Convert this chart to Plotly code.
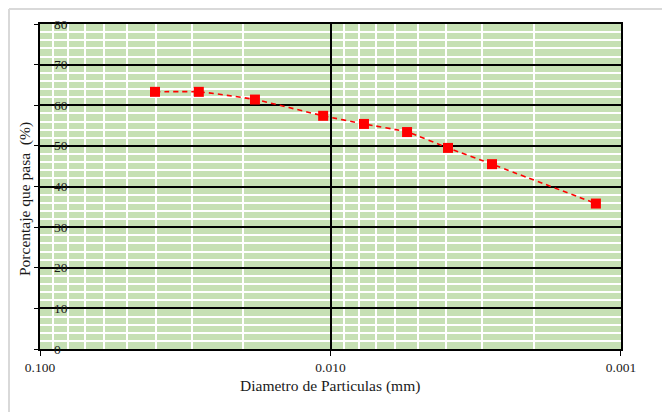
import plotly.graph_objects as go

diametro_mm = [0.0402, 0.0284, 0.0182, 0.0106, 0.00767, 0.00545, 0.00394, 0.00278, 0.00122]
porcentaje_pasa = [63.3, 63.3, 61.4, 57.4, 55.4, 53.4, 49.5, 45.5, 35.8]
x_tick_vals = [0.1, 0.01, 0.001]
x_tick_text = ["0.100", "0.010", "0.001"]
y_tick_vals = [0, 10, 20, 30, 40, 50, 60, 70, 80]
x_title = "Diametro de Particulas (mm)"
y_title = "Porcentaje que pasa  (%)"

FONT = "Times New Roman, Liberation Serif, serif"
TXT = "#1a1a1a"

# page offset (default body margin) and plot area in page pixels
OFF = 8
PL, PR, PT, PB = 40, 621, 24, 349
L, T = PL - OFF, PT - OFF
R, B = 670 - (PR - OFF), 412 - (PB - OFF)
PW, PH = PR - PL, PB - PT


def px_x(p):
    return (p - PL) / PW


def px_y(p):
    return (PB - p) / PH


fig = go.Figure()
fig.add_trace(go.Scatter(
    x=diametro_mm, y=porcentaje_pasa, mode="lines+markers",
    line=dict(color="#FF0000", width=1.6, dash="5px,4px", shape="spline", smoothing=0.5),
    marker=dict(symbol="square", size=10, color="#FF0000"),
    showlegend=False,
))

fig.update_layout(
    width=670, height=412,
    margin=dict(l=L, r=R, t=T, b=B),
    paper_bgcolor="white",
    plot_bgcolor="#C6E0B4",
    font=dict(family=FONT, size=13, color=TXT),
    xaxis=dict(
        type="log", range=[-0.99995, -3.00005],
        tickvals=x_tick_vals, ticktext=x_tick_text,
        showgrid=True, gridcolor="black", gridwidth=2,
        minor=dict(dtick="D1", showgrid=True, gridcolor="white", gridwidth=2, ticks=""),
        showline=True, linecolor="black", linewidth=2, mirror=True,
        ticks="outside", ticklen=5, tickcolor="black", tickwidth=1,
        tickfont=dict(family=FONT, size=13.5, color=TXT),
        automargin=False, zeroline=False,
    ),
    yaxis=dict(
        range=[0, 80], tickvals=y_tick_vals,
        showgrid=True, gridcolor="black", gridwidth=2,
        minor=dict(dtick=2, showgrid=True, gridcolor="white", gridwidth=2, ticks=""),
        showline=True, linecolor="black", linewidth=2, mirror=True,
        ticks="outside", ticklen=4, tickcolor="black",
        showticklabels=False,
        automargin=False, zeroline=False,
    ),
)

# y tick labels (placed inside the plot area, as in the reference)
for v in y_tick_vals:
    fig.add_annotation(x=px_x(52), xref="paper", y=v, yref="y", text=str(v),
                       showarrow=False, xanchor="left", yanchor="middle",
                       font=dict(family=FONT, size=13.5, color=TXT))

# axis titles
fig.add_annotation(x=px_x(330), xref="paper", y=px_y(386), yref="paper",
                   text=x_title, showarrow=False, xanchor="center", yanchor="middle",
                   font=dict(family=FONT, size=15.5, color=TXT))
fig.add_annotation(x=px_x(25), xref="paper", y=px_y(199), yref="paper",
                   text=y_title, textangle=-90, showarrow=False,
                   xanchor="center", yanchor="middle",
                   font=dict(family=FONT, size=15.5, color=TXT))

# Chart-area border (top and left light gray lines)
fig.add_shape(type="line", xref="paper", yref="paper",
              x0=px_x(9), x1=px_x(680), y0=px_y(9), y1=px_y(9),
              line=dict(color="#D9D9D9", width=2), layer="below")
fig.add_shape(type="line", xref="paper", yref="paper",
              x0=px_x(9), x1=px_x(9), y0=px_y(9), y1=px_y(420),
              line=dict(color="#D9D9D9", width=2), layer="below")

fig.write_html("out.html")
